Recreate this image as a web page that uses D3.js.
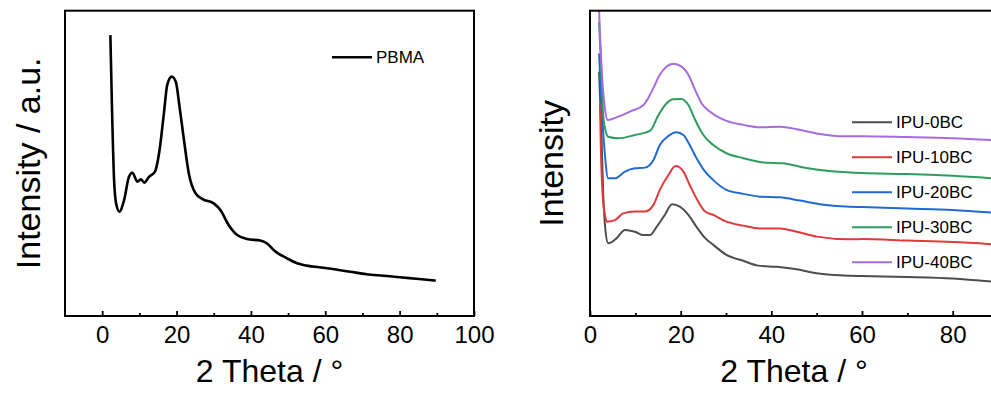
<!DOCTYPE html>
<html>
<head>
<meta charset="utf-8">
<script src="https://cdn.jsdelivr.net/npm/d3@7"></script>
<style>
  body { margin: 0; background: #fff; }
  text { font-family: "Liberation Sans", Arial, sans-serif; fill: #000; }
</style>
</head>
<body>
<div id="chart"></div>
<script>
// PBMA pattern (2 theta, arbitrary intensity)
const pbmaTheta = [2.2, 2.6, 3.2, 3.8, 4.6, 5.9, 7.2, 8.1, 9.5, 10.4, 11.3, 12.6, 14.2, 15.3, 16.6, 17.5, 18.7, 19.8, 20.8, 22, 23.3, 25.1, 27, 30, 31.8, 34, 36.3, 39, 42.5, 44.3, 46.6, 49.7, 52.4, 55, 59.5, 66.7, 71.1, 75.6, 80, 84.5, 89.7];
const pbmaInt   = [92.0, 70, 44.5, 36.5, 34.2, 38.0, 45.6, 46.9, 44.0, 44.8, 43.7, 45.6, 47.3, 53.3, 66.4, 75.7, 78.4, 76.7, 68.6, 57.6, 46.7, 40.2, 38.3, 36.9, 34.7, 29.8, 26.5, 25.2, 24.7, 23.8, 21.1, 18.9, 17.3, 16.5, 15.8, 14.5, 13.7, 13.2, 12.7, 12.2, 11.6];

// IPU series
const ipuNames  = ["IPU-0BC", "IPU-10BC", "IPU-20BC", "IPU-30BC", "IPU-40BC"];
const ipuColors = ["#4d4d4d", "#e2393d", "#1f6ad3", "#2e9c5e", "#a46ce0"];

const ipu0Theta = [2.0, 2.5, 2.9, 3.4, 4.0, 5.9, 7.7, 9.9, 11.8, 13.2, 14.7, 16.5, 18.1, 19.8, 21.7, 23.5, 25.4, 27.2, 30.1, 33.8, 37.1, 41.2, 45.6, 50, 57.3, 60, 70, 80, 90];
const ipu0Int   = [80.0, 60.9, 40.7, 28.2, 23.8, 25.5, 28.2, 27.6, 26.5, 26.5, 29.2, 33.1, 36.6, 35.8, 33.1, 29.2, 25.5, 23.3, 20.0, 18.1, 16.5, 16.1, 15.3, 14.0, 13.2, 13.1, 12.8, 12.3, 11.1];

const ipu10Theta = [2.2, 2.4, 2.8, 3.3, 3.7, 5.5, 7.3, 9.9, 12.1, 14, 15.4, 17.3, 18.9, 20.6, 22, 23.9, 25.4, 27.2, 30.1, 33.8, 37.5, 41.9, 45.6, 50, 57.3, 60, 70, 80, 90];
const ipu10Int   = [69.8, 54.4, 39.6, 33.1, 30.9, 31.4, 33.6, 34.2, 34.2, 36.4, 41.3, 46.2, 49.1, 47.3, 42.9, 37.4, 34.2, 33.1, 30.9, 29.6, 28.7, 28.7, 27.6, 26.0, 25.1, 25.2, 24.7, 24.2, 23.4];

const ipu20Theta = [2.0, 2.6, 3.2, 4.0, 5.5, 7.7, 9.9, 12.1, 14, 15.4, 17.3, 19.1, 20.6, 22, 23.5, 25.4, 27.2, 30.1, 33.8, 37.5, 41.9, 46.3, 50.7, 57.3, 60, 70, 80, 90];
const ipu20Int   = [86.0, 67.5, 54.4, 45.1, 45.1, 47.3, 48.4, 48.6, 51.1, 56.0, 59.0, 60.2, 59.3, 56.0, 51.7, 47.3, 44.5, 41.3, 40.0, 39.1, 38.9, 37.8, 36.6, 35.8, 35.7, 35.2, 34.7, 33.7];

const ipu30Theta = [2.0, 2.5, 2.9, 3.4, 4.0, 6.2, 9.9, 13.2, 15.1, 16.9, 18.4, 20.2, 21.7, 23.2, 25, 27.2, 30.1, 33.8, 38.2, 42.6, 46.3, 50.7, 57.3, 60, 70, 80, 90];
const ipu30Int   = [96.3, 80.6, 65.8, 60.9, 58.7, 58.2, 59.3, 60.6, 65.8, 69.7, 71.0, 71.1, 69.1, 64.2, 59.3, 56.0, 53.3, 51.7, 50.3, 50.0, 48.9, 47.8, 47.0, 46.8, 46.5, 45.9, 45.0];

const ipu40Theta = [2.0, 2.6, 3.2, 3.9, 6.2, 9.2, 11.8, 13.6, 15.4, 16.9, 18.4, 20.2, 21.7, 23.2, 24.6, 26.5, 30.1, 33.8, 37.5, 41.9, 45.6, 50, 55.1, 60, 70, 80, 90];
const ipu40Int   = [100, 80.0, 69.1, 64.2, 65.3, 67.2, 69.1, 73.5, 79.0, 81.7, 82.6, 81.7, 79.0, 74.0, 69.7, 66.9, 63.9, 62.6, 61.8, 62.0, 61.2, 59.8, 58.9, 58.9, 58.6, 58.2, 57.5];

const ipuTheta = [ipu0Theta, ipu10Theta, ipu20Theta, ipu30Theta, ipu40Theta];
const ipuInt   = [ipu0Int, ipu10Int, ipu20Int, ipu30Int, ipu40Int];

const majorLeft  = [0, 20, 40, 60, 80, 100];
const minorLeft  = [10, 30, 50, 70, 90];
const majorRight = [0, 20, 40, 60, 80];
const minorRight = [10, 30, 50, 70];

const W = 991, H = 396;
const plotTop = 10.7, plotBottom = 316;

const svg = d3.select("#chart").append("svg")
    .attr("width", W)
    .attr("height", H);

svg.append("rect").attr("width", W).attr("height", H).attr("fill", "#fff");

const y = d3.scaleLinear().domain([0, 100]).range([plotBottom, plotTop]);

function panel(x, opts) {
    const g = svg.append("g");
    const [x0, x1] = x.range();

    const clipId = "clip" + opts.id;
    svg.append("clipPath").attr("id", clipId)
        .append("rect")
        .attr("x", x0).attr("y", plotTop)
        .attr("width", x1 - x0).attr("height", plotBottom - plotTop);

    const line = d3.line()
        .x(d => x(d[0]))
        .y(d => y(d[1]))
        .curve(d3.curveMonotoneX);

    const plot = g.append("g").attr("clip-path", `url(#${clipId})`);
    opts.series.forEach(s => {
        plot.append("path")
            .datum(d3.zip(s.theta, s.int))
            .attr("fill", "none")
            .attr("stroke", s.color)
            .attr("stroke-width", opts.lw)
            .attr("stroke-linejoin", "round")
            .attr("d", line);
    });

    // major ticks with labels
    const ax = g.append("g")
        .attr("transform", `translate(0,${plotBottom})`)
        .call(d3.axisBottom(x)
            .tickValues(opts.major)
            .tickSizeInner(-5)
            .tickSizeOuter(0)
            .tickPadding(10)
            .tickFormat(d3.format("d")));
    ax.select(".domain").remove();
    ax.selectAll(".tick line").attr("stroke", "#000").attr("stroke-width", 1.8);
    ax.selectAll("text").style("font-size", "24px").attr("fill", "#000");

    // minor ticks
    const mx = g.append("g")
        .attr("transform", `translate(0,${plotBottom})`)
        .call(d3.axisBottom(x)
            .tickValues(opts.minor)
            .tickSizeInner(-3)
            .tickSizeOuter(0)
            .tickFormat(""));
    mx.select(".domain").remove();
    mx.selectAll(".tick line").attr("stroke", "#000").attr("stroke-width", 1.8);

    // frame
    g.append("rect")
        .attr("x", x0).attr("y", plotTop)
        .attr("width", x1 - x0).attr("height", plotBottom - plotTop)
        .attr("fill", "none")
        .attr("stroke", "#000")
        .attr("stroke-width", 2);

    // titles
    g.append("text")
        .attr("x", (x0 + x1) / 2)
        .attr("y", 382)
        .attr("text-anchor", "middle")
        .style("font-size", "32px")
        .text("2 Theta / °");

    g.append("text")
        .attr("transform", `translate(${opts.yTitleX},${(plotTop + plotBottom) / 2}) rotate(-90)`)
        .attr("text-anchor", "middle")
        .style("font-size", "34px")
        .text(opts.yTitle);

    // legend
    const lg = g.append("g").attr("transform", `translate(${opts.legendX},${opts.legendY})`);
    opts.series.forEach((s, i) => {
        lg.append("line")
            .attr("x1", 0).attr("x2", 40)
            .attr("y1", i * 35).attr("y2", i * 35)
            .attr("stroke", s.color)
            .attr("stroke-width", opts.lw);
        lg.append("text")
            .attr("x", 44)
            .attr("y", i * 35)
            .attr("dy", "0.36em")
            .style("font-size", "17px")
            .text(s.name);
    });
}

const xLeft = d3.scaleLinear().domain([-10, 100]).range([65, 474]);
panel(xLeft, {
    id: "L",
    major: majorLeft,
    minor: minorLeft,
    lw: 2.6,
    yTitle: "Intensity / a.u.",
    yTitleX: 40,
    legendX: 332,
    legendY: 57.3,
    series: [{ name: "PBMA", color: "#000", theta: pbmaTheta, int: pbmaInt }]
});

const xRight = d3.scaleLinear().domain([0, 90]).range([590, 998]);
panel(xRight, {
    id: "R",
    major: majorRight,
    minor: minorRight,
    lw: 2,
    yTitle: "Intensity",
    yTitleX: 563,
    legendX: 852,
    legendY: 122.3,
    series: ipuNames.map((n, i) => ({ name: n, color: ipuColors[i], theta: ipuTheta[i], int: ipuInt[i] }))
});
</script>
</body>
</html>
